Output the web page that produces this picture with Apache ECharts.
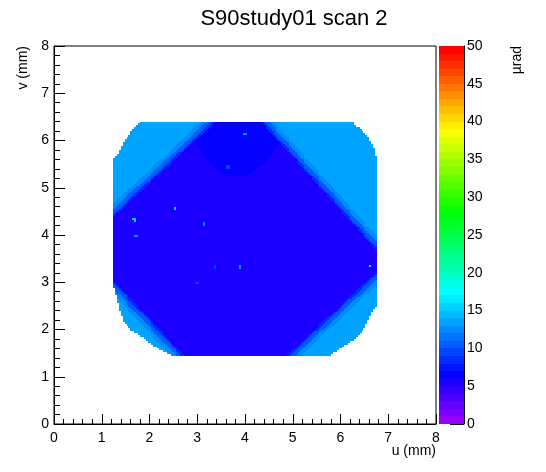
<!DOCTYPE html>
<html><head><meta charset="utf-8">
<script src="https://cdn.jsdelivr.net/npm/echarts@6/dist/echarts.min.js"></script>
<style>html,body{margin:0;padding:0;background:#fff}#c{width:546px;height:472px}</style>
</head><body><div id="c"></div>
<script>
// ---------------- data ----------------
const titleText = 'S90study01 scan 2';
const xTitle = 'u (mm)';
const yTitle = 'v (mm)';
const zTitle = 'µrad';
const axisMin = 0, axisMax = 8;
const zMin = 0, zMax = 50, zLevels = 50;
const binSize = 0.04;

// outline of the measured area (u, v in mm)
const outlineU = [1.83, 6.23, 6.34, 6.55, 6.65, 6.72, 6.76, 6.76, 6.68, 6.55, 6.44, 6.26, 5.99, 5.78, 2.46, 2.07, 1.86, 1.62, 1.44, 1.34, 1.28, 1.23, 1.23, 1.38, 1.48, 1.69];
const outlineV = [6.41, 6.41, 6.30, 6.12, 5.95, 5.77, 5.60, 2.50, 2.40, 2.13, 1.94, 1.77, 1.60, 1.44, 1.44, 1.66, 1.83, 1.98, 2.19, 2.55, 2.79, 2.97, 5.58, 5.79, 6.00, 6.29];

// edges of the tilted square (two points on each edge)
const edgeUL = [[1.25, 4.45], [3.33, 6.41]];
const edgeUR = [[4.38, 6.41], [6.74, 3.75]];
const edgeLR = [[6.74, 3.15], [4.94, 1.45]];
const edgeLL = [[1.25, 2.97], [2.67, 1.44]];
const squareCentre = [3.9, 3.8];

// slightly brighter zone at the top of the square
const upperZoneU = [2.9, 4.8, 4.7, 4.4, 4.0, 3.6, 3.25, 3.0];
const upperZoneV = [6.45, 6.45, 5.9, 5.5, 5.25, 5.25, 5.5, 5.9];

// typical levels (µrad)
const levelSquare = 5.5;
const levelUpper = 6.5;
const levelInnerEdge = 8.5;
const levelOuterEdge = 10.5;
const levelNearOuter = 12.5;
const levelOuter = 13.5;
const innerEdgeWidth = 0.04, outerEdgeWidth = 0.08, nearOuterWidth = 0.16;

// isolated bright spots inside the square
const hotU = [2.53, 1.69, 1.73, 3.14, 3.89, 6.62, 4.00, 3.00, 3.64, 3.37];
const hotV = [4.56, 4.33, 3.98, 4.23, 3.32, 3.34, 6.13, 2.99, 5.44, 3.32];
const hotVal = [15.5, 15.5, 12.5, 12.5, 13.5, 17.5, 13.5, 9.5, 9.5, 9.5];

// ---------------- helpers ----------------
function inPoly(x, y, px, py) {
  let inside = false;
  for (let i = 0, j = px.length - 1; i < px.length; j = i++) {
    if (((py[i] > y) !== (py[j] > y)) && (x < (px[j] - px[i]) * (y - py[i]) / (py[j] - py[i]) + px[i])) inside = !inside;
  }
  return inside;
}
function signedDist(edge, x, y) {
  const [a, b] = edge;
  const dx = b[0] - a[0], dy = b[1] - a[1];
  const len = Math.hypot(dx, dy);
  const d = (dx * (y - a[1]) - dy * (x - a[0])) / len;
  const dc = (dx * (squareCentre[1] - a[1]) - dy * (squareCentre[0] - a[0])) / len;
  return dc > 0 ? d : -d;
}
function classify(u, v) {
  const ds = [edgeUL, edgeUR, edgeLR, edgeLL].map(e => signedDist(e, u, v));
  const m = Math.min(...ds);
  if (m >= 0) {
    if (m < innerEdgeWidth) return levelInnerEdge;
    if (inPoly(u, v, upperZoneU, upperZoneV)) return levelUpper;
    return levelSquare;
  }
  const out = -m;
  if (out < outerEdgeWidth) return levelOuterEdge;
  if (out < nearOuterWidth) return levelNearOuter;
  return levelOuter;
}
function hslHex(h) {
  const x = 1 - Math.abs(((h / 60) % 2) - 1);
  let r, g, b;
  if (h < 60) [r, g, b] = [1, x, 0];
  else if (h < 120) [r, g, b] = [x, 1, 0];
  else if (h < 180) [r, g, b] = [0, 1, x];
  else if (h < 240) [r, g, b] = [0, x, 1];
  else if (h < 300) [r, g, b] = [x, 0, 1];
  else [r, g, b] = [1, 0, x];
  const t = c => Math.round(c * 255).toString(16).padStart(2, '0');
  return '#' + t(r) + t(g) + t(b);
}
// ROOT "pretty" palette: 50 hues from violet to red
const palette = [];
for (let i = 0; i < zLevels; i++) palette.push(hslHex(Math.max(0, 280 - (i + 1) * 5.6)));

// ---------------- build the binned table ----------------
const nBins = Math.round((axisMax - axisMin) / binSize);
const grid = [];
for (let j = 0; j < nBins; j++) {
  const row = new Array(nBins).fill(null);
  const vc = axisMin + (j + 0.5) * binSize;
  for (let i = 0; i < nBins; i++) {
    const uc = axisMin + (i + 0.5) * binSize;
    if (inPoly(uc, vc, outlineU, outlineV)) row[i] = classify(uc, vc);
  }
  grid.push(row);
}
hotU.forEach((hu, k) => {
  for (let j = 0; j < nBins; j++) for (let i = 0; i < nBins; i++) {
    const uc = axisMin + (i + 0.5) * binSize, vc = axisMin + (j + 0.5) * binSize;
    if (grid[j][i] !== null && Math.hypot(uc - hu, vc - hotV[k]) < 0.035) grid[j][i] = hotVal[k];
  }
});
// merge horizontal runs of equal value: [u0, u1, v0, v1, value]
const runs = [];
for (let j = 0; j < nBins; j++) {
  let i = 0;
  while (i < nBins) {
    const val = grid[j][i];
    if (val === null) { i++; continue; }
    let k = i;
    while (k + 1 < nBins && grid[j][k + 1] === val) k++;
    runs.push([axisMin + i * binSize, axisMin + (k + 1) * binSize, axisMin + j * binSize, axisMin + (j + 1) * binSize, val]);
    i = k + 1;
  }
}
const barCells = [];
for (let i = 0; i < zLevels; i++) {
  const lo = zMin + i * (zMax - zMin) / zLevels, hi = zMin + (i + 1) * (zMax - zMin) / zLevels;
  barCells.push([0, 1, lo, hi, (lo + hi) / 2]);
}

// ---------------- chart ----------------
const FONT = '"Liberation Sans", Arial, Helvetica, sans-serif';
function renderRect(params, api) {
  const p0 = api.coord([api.value(0), api.value(3)]);
  const p1 = api.coord([api.value(1), api.value(2)]);
  const x0 = Math.round(p0[0]), x1 = Math.round(p1[0]);
  const y0 = Math.round(p0[1]), y1 = Math.round(p1[1]);
  return {
    type: 'rect',
    shape: { x: x0, y: y0, width: x1 - x0, height: y1 - y0 },
    style: { fill: api.visual('color') }
  };
}
const chart = echarts.init(document.getElementById('c'), null, { renderer: 'canvas' });
const blackAxis = { show: true, onZero: false, lineStyle: { color: '#000', width: 1 } };
chart.setOption({
  animation: false,
  backgroundColor: '#fff',
  grid: [
    { left: 54, right: 110, top: 46, bottom: 48, show: true, borderColor: '#000', borderWidth: 1, backgroundColor: 'transparent' },
    { left: 439, width: 25, top: 46, bottom: 48 }
  ],
  xAxis: [
    { gridIndex: 0, type: 'value', min: axisMin, max: axisMax, interval: 1,
      axisLine: blackAxis,
      axisTick: { show: true, inside: true, length: 10, lineStyle: { color: '#000' } },
      minorTick: { show: true, splitNumber: 5, length: 5, lineStyle: { color: '#000' } },
      axisLabel: { color: '#000', fontSize: 14, fontFamily: FONT, margin: 7 },
      splitLine: { show: false } },
    { gridIndex: 1, type: 'value', min: 0, max: 1, show: false }
  ],
  yAxis: [
    { gridIndex: 0, type: 'value', min: axisMin, max: axisMax, interval: 1,
      axisLine: blackAxis,
      axisTick: { show: true, inside: true, length: 11, lineStyle: { color: '#000' } },
      minorTick: { show: true, splitNumber: 5, length: 6, lineStyle: { color: '#000' } },
      axisLabel: { color: '#000', fontSize: 14, fontFamily: FONT, margin: 5 },
      splitLine: { show: false } },
    { gridIndex: 1, type: 'value', min: zMin, max: zMax, interval: 5, position: 'right',
      axisLine: blackAxis,
      axisTick: { show: true, inside: true, length: 14, lineStyle: { color: '#000' } },
      axisLabel: { color: '#000', fontSize: 14, fontFamily: FONT, margin: 3 },
      splitLine: { show: false } }
  ],
  visualMap: {
    type: 'piecewise', show: false, dimension: 4, seriesIndex: [0, 1],
    pieces: palette.map((c, i) => ({ gte: zMin + i, lt: zMin + i + 1, color: c }))
  },
  series: [
    { type: 'custom', xAxisIndex: 0, yAxisIndex: 0, data: runs, renderItem: renderRect, clip: true,
      encode: { x: [0, 1], y: [2, 3] }, silent: true },
    { type: 'custom', xAxisIndex: 1, yAxisIndex: 1, data: barCells, renderItem: renderRect, clip: true,
      encode: { x: [0, 1], y: [2, 3] }, silent: true, z: 1 }
  ],
  graphic: [
    { type: 'text', x: 294, y: 19, style: { text: titleText, fontSize: 22, fontFamily: FONT, fill: '#000', align: 'center', verticalAlign: 'middle' } },
    { type: 'text', x: 436, y: 451, style: { text: xTitle, fontSize: 14, fontFamily: FONT, fill: '#000', align: 'right', verticalAlign: 'middle' } },
    { type: 'text', x: 23, y: 46, rotation: Math.PI / 2, style: { text: yTitle, fontSize: 14, fontFamily: FONT, fill: '#000', align: 'right', verticalAlign: 'middle' } },
    { type: 'text', x: 517, y: 46, rotation: Math.PI / 2, style: { text: zTitle, fontSize: 14, fontFamily: FONT, fill: '#000', align: 'right', verticalAlign: 'middle' } }
  ]
});
</script></body></html>
